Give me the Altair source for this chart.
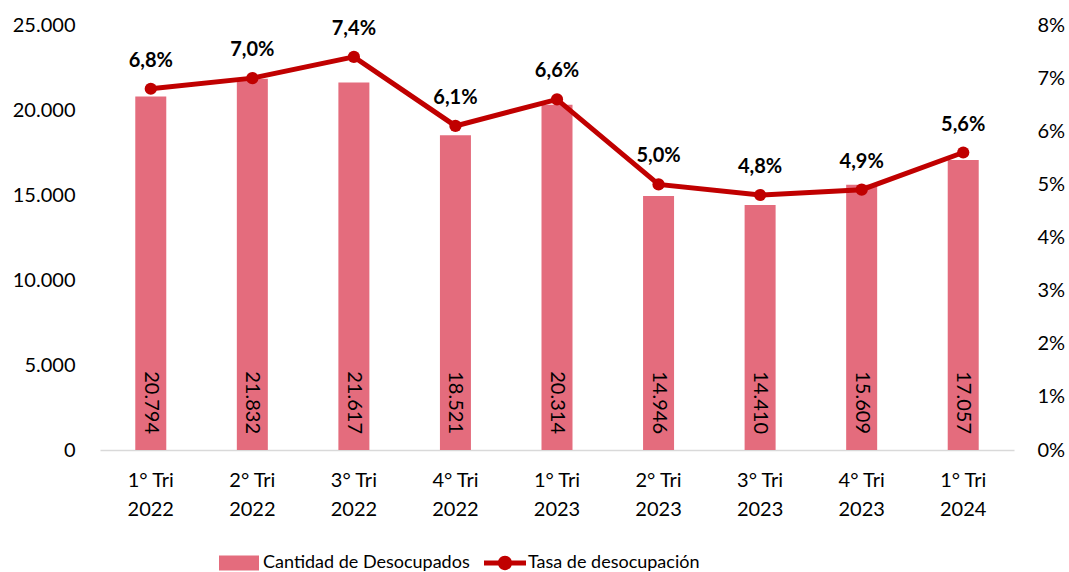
import altair as alt
import pandas as pd

categories = ["1° Tri 2022", "2° Tri 2022", "3° Tri 2022", "4° Tri 2022",
              "1° Tri 2023", "2° Tri 2023", "3° Tri 2023", "4° Tri 2023", "1° Tri 2024"]
desocupados = [20794, 21832, 21617, 18521, 20314, 14946, 14410, 15609, 17057]
tasa = [6.8, 7.0, 7.4, 6.1, 6.6, 5.0, 4.8, 4.9, 5.6]

bar_name = "Cantidad de Desocupados"
line_name = "Tasa de desocupación"
bar_color = "#E46C7D"
line_color = "#C00000"
FONT = "Lato"

df = pd.DataFrame({"periodo": categories, "cantidad": desocupados, "tasa": tasa})
df["serie_bar"] = bar_name
df["serie_line"] = line_name

base = alt.Chart(df)

x_enc = alt.X(
    "periodo:N", sort=categories, title=None,
    scale=alt.Scale(paddingInner=0, paddingOuter=0),
    axis=alt.Axis(
        labelAngle=0, ticks=False, domainColor="#D9D9D9", domainWidth=1.5,
        labelFont=FONT, labelFontSize=20, labelColor="#000000",
        labelPadding=20, labelLineHeight=29, labelBaseline="top",
        labelExpr="[substring(datum.label, 0, 6), substring(datum.label, 7)]",
    ),
)

y_left = alt.Y(
    "cantidad:Q", title=None,
    scale=alt.Scale(domain=[0, 25000], nice=False),
    axis=alt.Axis(
        values=[0, 5000, 10000, 15000, 20000, 25000], grid=False, domain=False,
        ticks=False, labelFont=FONT, labelFontSize=20, labelColor="#000000",
        labelPadding=25,
        labelExpr="replace(format(datum.value, ','), ',', '.')",
    ),
)

bars = base.mark_bar(size=31).encode(
    x=x_enc,
    y=y_left,
    fill=alt.Fill(
        "serie_bar:N",
        scale=alt.Scale(domain=[bar_name], range=[bar_color]),
        legend=alt.Legend(
            title=None, orient="none", legendX=119, legendY=518, padding=0,
            symbolType="M-1,-0.375L1,-0.375L1,0.375L-1,0.375Z", symbolSize=1600,
            symbolStrokeWidth=0, labelFont=FONT, labelFontSize=18,
            labelColor="#000000", labelOffset=4, labelLimit=500,
        ),
    ),
)

bar_labels = base.mark_text(
    angle=90, align="right", baseline="middle", dx=-16,
    font=FONT, fontSize=20, color="#000000",
).transform_calculate(
    lab="replace(format(datum.cantidad, ','), ',', '.')"
).encode(
    x=alt.X("periodo:N", sort=categories),
    y=alt.datum(0, type="quantitative"),
    text="lab:N",
)

left = alt.layer(bars, bar_labels)

y_right = alt.Y(
    "tasa:Q", title=None,
    scale=alt.Scale(domain=[0, 8], nice=False),
    axis=alt.Axis(
        orient="right", values=[0, 1, 2, 3, 4, 5, 6, 7, 8], grid=False,
        domain=False, ticks=False, labelFont=FONT, labelFontSize=20,
        labelColor="#000000", labelPadding=23,
        labelExpr="datum.value + '%'",
    ),
)

line = base.mark_line(color=line_color, strokeWidth=5).encode(
    x=alt.X("periodo:N", sort=categories), y=y_right,
)

points = base.mark_point(filled=True, opacity=1, size=150).encode(
    x=alt.X("periodo:N", sort=categories),
    y=alt.Y("tasa:Q"),
    color=alt.Color(
        "serie_line:N",
        scale=alt.Scale(domain=[line_name], range=[line_color]),
        legend=alt.Legend(
            title=None, orient="none", legendX=384, legendY=517, padding=0,
            symbolType=("M-1,-0.12L1,-0.12L1,0.12L-1,0.12Z "
                        "M0.34,0A0.34,0.34 0 1,1 -0.34,0A0.34,0.34 0 1,1 0.34,0Z"),
            symbolSize=1764, symbolStrokeWidth=0, labelFont=FONT,
            labelFontSize=18, labelColor="#000000", labelOffset=2,
            labelLimit=500,
        ),
    ),
)

rate_labels = base.mark_text(
    baseline="alphabetic", dy=-22, font=FONT, fontSize=20,
    fontWeight="bold", color="#000000",
).transform_calculate(
    lab="replace(format(datum.tasa, '.1f'), '.', ',') + '%'"
).encode(
    x=alt.X("periodo:N", sort=categories),
    y=alt.Y("tasa:Q"),
    text="lab:N",
)

right = alt.layer(line, points, rate_labels)

chart = alt.layer(left, right).resolve_scale(
    y="independent", fill="independent", color="independent"
).properties(
    width=914, height=425,
    autosize=alt.AutoSizeParams(type="none"),
    padding={"left": 100, "top": 25, "right": 55, "bottom": 122},
    background="#FFFFFF",
).configure_view(stroke=None)

chart.save("out.html", embed_options={"renderer": "svg", "actions": False})
